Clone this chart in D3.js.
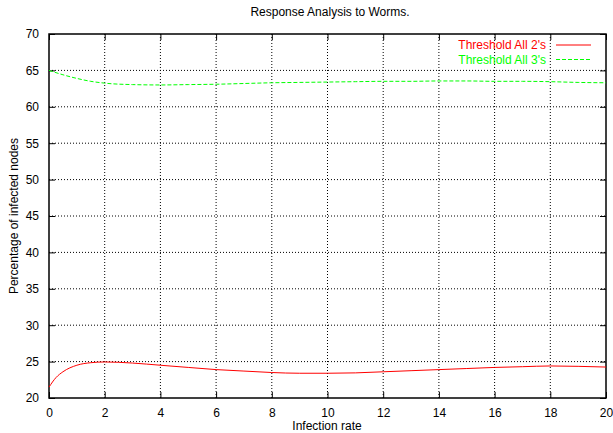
<!DOCTYPE html>
<html>
<head>
<meta charset="utf-8">
<script src="https://cdn.jsdelivr.net/npm/d3@7"></script>
<style>
  body { margin: 0; background: #fff; }
  text { font-family: "Liberation Sans", Arial, sans-serif; }
</style>
</head>
<body>
<div class="chart"></div>
<script>
// curve data
let redX = [0, 0.25, 0.5, 1, 1.5, 2, 3, 4, 5, 6, 7, 8, 9, 10, 11, 12, 13, 14, 15, 16, 17, 18, 19, 20];
let redY = [21.5, 22.8, 23.6, 24.5, 24.85, 24.95, 24.8, 24.5, 24.2, 23.9, 23.7, 23.5, 23.4, 23.4, 23.45, 23.6, 23.75, 23.9, 24.05, 24.2, 24.3, 24.4, 24.35, 24.25];
let greenX = [0, 0.5, 1, 1.5, 2, 3, 4, 5, 6, 7, 8, 9, 10, 11, 12, 13, 14, 15, 16, 17, 18, 19, 20];
let greenY = [65, 64.4, 63.9, 63.5, 63.25, 63.05, 63.0, 63.05, 63.1, 63.2, 63.3, 63.35, 63.4, 63.45, 63.5, 63.5, 63.55, 63.55, 63.5, 63.5, 63.45, 63.35, 63.3];
let seriesNames = ["Threshold All 2's", "Threshold All 3's"];
let xTicks = [0, 2, 4, 6, 8, 10, 12, 14, 16, 18, 20];
let yTicks = [20, 25, 30, 35, 40, 45, 50, 55, 60, 65, 70];

let outWidth = 613, outHeight = 433;
let margin = {top: 34, right: 7, left: 49, bottom: 35};
let width = outWidth - margin.left - margin.right,
    height = outHeight - margin.top - margin.bottom;

const svg = d3.select('.chart').append('svg')
  .attr("width", outWidth)
  .attr("height", outHeight);

const g = svg.append("g")
  .attr("transform", `translate(${margin.left}, ${margin.top})`);

const xScale = d3.scaleLinear().domain([0, 20]).range([0, width]);
const yScale = d3.scaleLinear().domain([20, 70]).range([height, 0]);

// dotted grid
g.selectAll(".vgrid").data(xTicks.slice(1, -1)).enter().append("line")
  .attr("x1", d => xScale(d)).attr("x2", d => xScale(d))
  .attr("y1", 0).attr("y2", height)
  .attr("stroke", "#000").attr("stroke-width", 1)
  .attr("stroke-dasharray", "1,2");
g.selectAll(".hgrid").data(yTicks.slice(1, -1)).enter().append("line")
  .attr("y1", d => yScale(d)).attr("y2", d => yScale(d))
  .attr("x1", 0).attr("x2", width)
  .attr("stroke", "#000").attr("stroke-width", 1)
  .attr("stroke-dasharray", "1,2");

// axes, ticks pointing inward on all four sides
const xAxis = d3.axisBottom(xScale).tickValues(xTicks).tickSizeInner(-6).tickSizeOuter(0).tickPadding(10);
const yAxis = d3.axisLeft(yScale).tickValues(yTicks).tickSizeInner(-6).tickSizeOuter(0).tickPadding(10);
const xTop = d3.axisTop(xScale).tickValues(xTicks).tickSizeInner(-6).tickSizeOuter(0).tickFormat("");
const yRight = d3.axisRight(yScale).tickValues(yTicks).tickSizeInner(-6).tickSizeOuter(0).tickFormat("");

g.append("g").attr("class", "axis").attr("transform", `translate(0, ${height})`).call(xAxis);
g.append("g").attr("class", "axis").call(yAxis);
g.append("g").attr("class", "axis").call(xTop);
g.append("g").attr("class", "axis").attr("transform", `translate(${width}, 0)`).call(yRight);
g.selectAll(".axis .domain").remove();
g.selectAll(".axis text").attr("font-size", 12).attr("fill", "#000")
  .style("font-family", "'Liberation Sans', Arial, sans-serif");
g.selectAll(".axis line").attr("stroke", "#000");

g.append("rect")
  .attr("width", width).attr("height", height)
  .attr("fill", "none").attr("stroke", "#000").attr("stroke-width", 1.5);

const line = d3.line()
  .x(d => xScale(d[0]))
  .y(d => yScale(d[1]))
  .curve(d3.curveMonotoneX);

g.append("path")
  .datum(redX.map((x, i) => [x, redY[i]]))
  .attr("d", line)
  .attr("fill", "none").attr("stroke", "#ff0000").attr("stroke-width", 1);

g.append("path")
  .datum(greenX.map((x, i) => [x, greenY[i]]))
  .attr("d", line)
  .attr("fill", "none").attr("stroke", "#00ff00").attr("stroke-width", 1)
  .attr("stroke-dasharray", "4,2");

// legend
const legColors = ["#ff0000", "#00ff00"];
const leg = svg.append("g");
seriesNames.forEach((name, i) => {
  let y = 45 + i * 14.5;
  leg.append("text").attr("x", 546).attr("y", y + 4)
    .attr("text-anchor", "end").attr("font-size", 12)
    .attr("fill", legColors[i]).text(name);
  leg.append("line").attr("x1", 556).attr("x2", 591).attr("y1", y).attr("y2", y)
    .attr("stroke", legColors[i]).attr("stroke-width", 1)
    .attr("stroke-dasharray", i == 1 ? "4,2" : null);
});

svg.append("text")
  .attr("x", 330).attr("y", 16).attr("text-anchor", "middle")
  .attr("font-size", 12).text("Response Analysis to Worms.");

svg.append("text")
  .attr("x", 327).attr("y", 430).attr("text-anchor", "middle")
  .attr("font-size", 12).text("Infection rate");

svg.append("text")
  .attr("transform", "translate(18, 216) rotate(-90)")
  .attr("text-anchor", "middle")
  .attr("font-size", 12).text("Percentage of infected nodes");
</script>
</body>
</html>
